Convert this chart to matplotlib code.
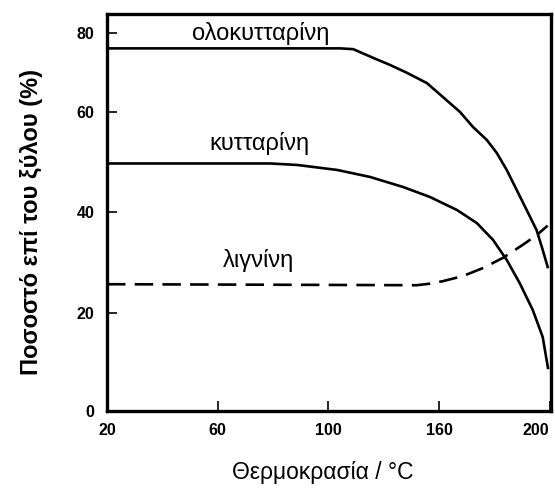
import numpy as np
import matplotlib.pyplot as plt
from matplotlib.ticker import FixedLocator

plt.rcParams['font.family'] = ['Liberation Sans', 'DejaVu Sans']

# Data (temperature in C, percent of wood)
T_holo = [20, 106.5, 113.5, 124.3, 133.5, 142.7, 153.5, 161.4, 167.6, 172.3,
          177.3, 180.9, 184.5, 188.1, 191.7, 195.3, 197.5, 199.3]
holo = [76.1, 76.1, 75.9, 73.7, 71.9, 69.9, 67.3, 63.8, 60.0, 57.0,
        54.4, 51.8, 48.4, 44.4, 40.4, 36.4, 32.5, 29.1]

T_cell = [20, 79.1, 88.8, 104.9, 122.7, 140.5, 155.1, 166.5, 173.7, 179.5,
          184.5, 189.2, 193.9, 197.5, 199.4]
cell = [49.7, 49.7, 49.4, 48.4, 47.0, 45.0, 43.0, 40.4, 37.8, 34.5,
        30.5, 25.9, 20.6, 15.1, 8.8]

T_lign = [20, 148, 155, 161.4, 168.6, 175.9, 183.1, 190.3, 195.3, 199.3]
lign = [25.7, 25.5, 25.8, 26.3, 27.3, 28.9, 30.9, 33.5, 35.4, 37.3]

x_ticks = [20, 60, 100, 160, 200]
y_ticks = [0, 20, 40, 60, 80]

# the original axes are not evenly scaled: tick marks sit at these positions
x_knots = [-20, 20, 60, 100, 160, 200, 240]
x_pos = [-1, 0, 1, 2, 3, 4, 5]
y_knots = [-20, 0, 20, 40, 60, 80, 100]
y_pos = [-0.98, 0, 0.98, 1.99, 2.99, 3.78, 4.57]


def fx(v):
    return np.interp(v, x_knots, x_pos)


def ix(v):
    return np.interp(v, x_pos, x_knots)


def fy(v):
    return np.interp(v, y_knots, y_pos)


def iy(v):
    return np.interp(v, y_pos, y_knots)


fig = plt.figure(figsize=(5.55, 4.88), dpi=100)
ax = fig.add_axes([0.1928, 0.1578, 0.80, 0.8135])
ax.set_xscale('function', functions=(fx, ix))
ax.set_yscale('function', functions=(fy, iy))

ax.plot(T_holo, holo, color='black', lw=1.9)
ax.plot(T_cell, cell, color='black', lw=1.9)
ax.plot(T_lign, lign, color='black', lw=1.9, dashes=(7, 3.5))

ax.set_xlim(20, 200.5)
ax.set_ylim(0, 84.8)
ax.xaxis.set_major_locator(FixedLocator(x_ticks))
ax.yaxis.set_major_locator(FixedLocator(y_ticks))
ax.xaxis.set_minor_locator(FixedLocator([]))
ax.yaxis.set_minor_locator(FixedLocator([]))
ax.set_xticklabels([str(v) for v in x_ticks], fontsize=11.5, fontweight='bold')
ax.set_yticklabels([str(v) for v in y_ticks], fontsize=11.5, fontweight='bold')
ax.get_xticklabels()[-1].set_ha('right')
ax.tick_params(direction='in', length=7, width=1.2, pad=9)

for s in ax.spines.values():
    s.set_linewidth(2.4)

ax.text(75.5, 78.2, 'ολοκυτταρίνη', fontsize=17, ha='center', va='baseline')
ax.text(75.1, 52.4, 'κυτταρίνη', fontsize=17, ha='center', va='baseline')
ax.text(74.8, 29.1, 'λιγνίνη', fontsize=17, ha='center', va='baseline')

ax.set_xlabel('Θερμοκρασία / °C', fontsize=16.5)
ax.set_ylabel('Ποσοστό επί του ξύλου (%)', fontsize=17, fontweight='bold')
ax.xaxis.set_label_coords(0.485, -0.125)
ax.yaxis.set_label_coords(-0.144, 0.476)

plt.savefig('out.png', dpi=100)
